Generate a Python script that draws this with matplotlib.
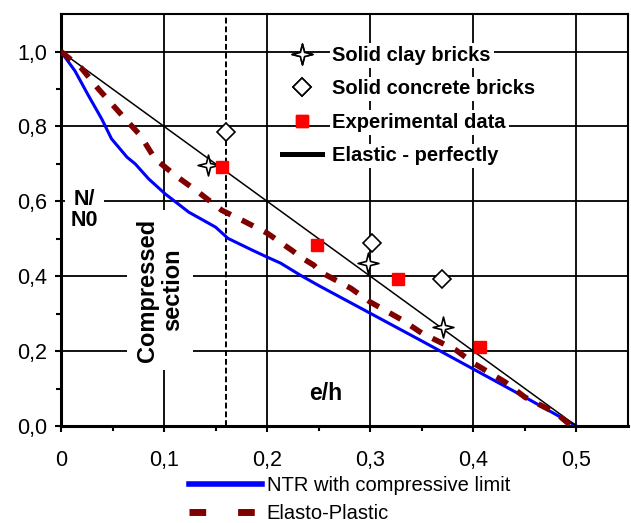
import matplotlib.pyplot as plt
from matplotlib.path import Path
from matplotlib.ticker import FixedLocator, FuncFormatter

plt.rcParams['font.family'] = ['Liberation Sans', 'DejaVu Sans']

# NTR with compressive limit (e/h, N/N0)
ntr_e = [0.0, 0.0136, 0.0265, 0.0395, 0.049, 0.064, 0.072, 0.085, 0.101, 0.124,
         0.150, 0.162, 0.186, 0.2, 0.213, 0.232, 0.25, 0.3, 0.35, 0.4, 0.45, 0.5]
ntr_n = [1.0, 0.948, 0.883, 0.820, 0.767, 0.718, 0.700, 0.660, 0.620, 0.571,
         0.531, 0.501, 0.469, 0.451, 0.435, 0.403, 0.375, 0.301, 0.227, 0.152, 0.077, 0.0]

# elasto-plastic model
ep_e = [0.0, 0.020, 0.036, 0.049, 0.062, 0.077, 0.091, 0.111, 0.133, 0.156, 0.176, 0.2,
        0.224, 0.236, 0.245, 0.252, 0.281, 0.3, 0.331, 0.35, 0.383, 0.4, 0.431,
        0.45, 0.48, 0.495]
ep_n = [1.0, 0.955, 0.901, 0.861, 0.821, 0.776, 0.714, 0.669, 0.625, 0.576, 0.549, 0.515,
        0.469, 0.445, 0.43, 0.411, 0.368, 0.331, 0.283, 0.248, 0.203, 0.168, 0.117,
        0.077, 0.035, 0.0]

# elastic - perfectly plastic
elastic_e = [0.0, 0.5]
elastic_n = [1.0, 0.0]

clay_e = [0.143, 0.298, 0.371]
clay_n = [0.696, 0.435, 0.264]
concrete_e = [0.160, 0.302, 0.370]
concrete_n = [0.784, 0.490, 0.392]
exp_e = [0.156, 0.248, 0.327, 0.406]
exp_n = [0.693, 0.483, 0.392, 0.211]

section_limit = 0.16

x_ticks = [0.0, 0.1, 0.2, 0.3, 0.4, 0.5]
x_minor = [0.05, 0.15, 0.25, 0.35, 0.45]
y_ticks = [0.0, 0.2, 0.4, 0.6, 0.8, 1.0]
y_minor = [0.1, 0.3, 0.5, 0.7, 0.9]


def comma(v, pos=None):
    return f'{v:.1f}'.replace('.', ',')


fig = plt.figure(figsize=(6.31, 5.23), dpi=100)
ax = fig.add_axes([0.0967, 0.1855, 0.8985, 0.7875])

ax.set_xlim(0, 0.55)
ax.set_ylim(0, 1.1)
ax.xaxis.set_major_locator(FixedLocator(x_ticks))
ax.xaxis.set_minor_locator(FixedLocator(x_minor))
ax.yaxis.set_major_locator(FixedLocator(y_ticks))
ax.yaxis.set_minor_locator(FixedLocator(y_minor))
ax.xaxis.set_major_formatter(FuncFormatter(lambda v, p: '0' if abs(v) < 1e-9 else comma(v)))
ax.yaxis.set_major_formatter(FuncFormatter(comma))
ax.tick_params(which='major', direction='out', length=4, width=1.5, labelsize=15.5, colors='black')
ax.tick_params(which='minor', direction='out', length=3.5, width=1.5)
ax.tick_params(axis='x', pad=13)
ax.tick_params(axis='y', pad=6)
for side in ['left', 'bottom']:
    ax.spines[side].set_linewidth(2.2)
for side in ['top', 'right']:
    ax.spines[side].set_linewidth(1.5)
ax.grid(which='major', color='black', linewidth=1.3, zorder=0)
ax.set_axisbelow(True)

star = Path.unit_regular_star(4, 0.28)

ax.plot(ntr_e, ntr_n, color='#0000ff', linewidth=2.2, zorder=3)
ax.plot(ep_e, ep_n, color='#800000', linewidth=4.0, dashes=(2.3, 2.2), zorder=4)
ax.plot(elastic_e, elastic_n, color='black', linewidth=1.1, zorder=3)
ax.axvline(section_limit, color='black', linewidth=1.4, dashes=(3, 1.5), zorder=2)

h_clay, = ax.plot(clay_e, clay_n, linestyle='none', marker=star, markersize=15,
                  markerfacecolor='white', markeredgecolor='black', markeredgewidth=1.2, zorder=5)
h_conc, = ax.plot(concrete_e, concrete_n, linestyle='none', marker='D', markersize=9,
                  markerfacecolor='white', markeredgecolor='black', markeredgewidth=1.2, zorder=5)
h_exp, = ax.plot(exp_e, exp_n, linestyle='none', marker='s', markersize=8.5,
                 color='#ff0000', zorder=6)
h_el, = ax.plot([], [], color='black', linewidth=3.5)

bg = dict(facecolor='white', edgecolor='none', pad=2)

top_leg = ax.legend([h_clay, h_conc, h_exp, h_el],
                    ['Solid clay bricks', 'Solid concrete bricks', 'Experimental data',
                     'Elastic - perfectly'],
                    loc='upper left', bbox_to_anchor=(0.39, 0.923), frameon=False,
                    prop={'weight': 'bold', 'size': 14.5}, handlelength=2.0,
                    handletextpad=0.5, labelspacing=0.72, borderpad=0, borderaxespad=0)
for t in top_leg.get_texts():
    t.set_bbox(bg)
ax.add_artist(top_leg)

ax.text(0.023, 0.578, 'N/\nN0', fontsize=15.5, fontweight='bold', ha='center',
        va='center', linespacing=1.0, bbox=dict(facecolor='white', edgecolor='none', pad=4),
        zorder=2.5)
ax.text(0.096, 0.363, 'Compressed\nsection', fontsize=17, fontweight='bold',
        rotation=90, ha='center', va='center', linespacing=1.15,
        bbox=dict(facecolor='white', edgecolor='none', pad=6), zorder=2.5)
ax.text(0.257, 0.088, 'e/h', fontsize=16.5, fontweight='bold', ha='center',
        va='center', bbox=dict(facecolor='white', edgecolor='none', pad=1), zorder=2.5)

h_ntr, = ax.plot([], [], color='#0000ff', linewidth=4)
h_ep, = ax.plot([], [], color='#800000', linewidth=5, dashes=(2.4, 4.6))
fig.legend([h_ntr, h_ep], ['NTR with compressive limit', 'Elasto-Plastic'],
           loc='upper left', bbox_to_anchor=(0.3, 0.09), frameon=False,
           prop={'size': 14.5}, handlelength=3.6, handletextpad=0.25,
           labelspacing=0.45, borderpad=0, borderaxespad=0)

fig.savefig('out.png', dpi=100)
